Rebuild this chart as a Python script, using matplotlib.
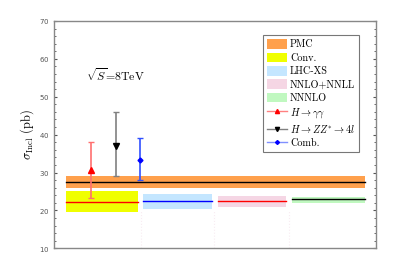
import matplotlib
matplotlib.use("Agg")
import matplotlib.pyplot as plt
from matplotlib.patches import Patch
from matplotlib.lines import Line2D

plt.rcParams['mathtext.fontset'] = 'cm'
plt.rcParams['font.family'] = 'serif'
plt.rcParams['font.serif'] = ['cmr10', 'DejaVu Serif']
plt.rcParams['axes.formatter.use_mathtext'] = True

# Theory predictions: band name, central value, lower and upper band edges (pb)
bands = ['PMC', 'Conv.', 'LHC-XS', 'NNLO+NNLL', 'NNNLO']
band_center = [27.4, 22.2, 22.4, 22.4, 22.9]
band_low = [25.9, 19.5, 20.3, 20.9, 21.9]
band_high = [29.0, 25.1, 24.3, 23.8, 23.5]

# Measurements (8 TeV): central value, lower and upper ends of error bar
channels = [r'$H\rightarrow\gamma\gamma$', r'$H\rightarrow ZZ^{*}\rightarrow 4l$', 'Comb.']
meas = [30.6, 37.1, 33.4]
meas_low = [23.2, 29.1, 27.9]
meas_high = [38.1, 46.1, 39.2]

# styling
band_colors = ['#ffa04c', '#f0ff00', '#c4e6ff', '#f5d6e4', '#c0f8c0']
line_colors = ['black', 'red', 'blue', 'red', 'black']
band_x = [(0.37, 9.66), (0.37, 2.62), (2.77, 4.92), (5.11, 7.23), (7.41, 9.66)]
meas_x = [1.14, 1.92, 2.69]
meas_colors = ['red', 'black', 'blue']
meas_line = ['#ff7070', '#808080', '#3050ff']
legend_line = ['#ff8080', '#808080', '#8090ff']
meas_markers = ['^', 'v', 'D']
meas_msize = [4, 4, 2.5]

fig = plt.figure(figsize=(4.15, 2.79), dpi=100)
ax = fig.add_axes([0.13, 0.11, 0.775, 0.815])

for i in range(len(bands)):
    x0, x1 = band_x[i]
    ax.fill_between([x0, x1], band_low[i], band_high[i], color=band_colors[i],
                    linewidth=0, zorder=1)
    ax.plot([x0, x1], [band_center[i], band_center[i]], color=line_colors[i],
            linewidth=1.0, zorder=2)

# faint dotted guides under the bands
for xv in [2.71, 4.98, 7.32]:
    ax.plot([xv, xv], [10, 20.2], color='#f8ecf2', linestyle=':', linewidth=0.8, zorder=1)

for i in range(len(channels)):
    ax.errorbar(meas_x[i], meas[i],
                yerr=[[meas[i] - meas_low[i]], [meas_high[i] - meas[i]]],
                fmt='none', ecolor=meas_line[i], elinewidth=1.2, capsize=2,
                capthick=1.0, zorder=4)
    ax.plot(meas_x[i], meas[i], marker=meas_markers[i], color=meas_colors[i],
            markersize=meas_msize[i], linestyle='none', zorder=5)

ax.text(1.0, 55.8, r'$\sqrt{S}$=8TeV', fontsize=8.5, va='center')

ax.set_xlim(0, 10)
ax.set_ylim(10, 70)
ax.set_yticks(range(10, 71, 10))
ax.set_yticks(range(10, 71, 2), minor=True)
ax.set_xticks([])
ax.tick_params(axis='y', which='both', direction='in', right=True, colors='#555555',
               labelsize=5, length=2.5)
ax.tick_params(axis='y', which='minor', length=1.5)
for lab in ax.get_yticklabels():
    lab.set_family('DejaVu Sans')
for sp in ax.spines.values():
    sp.set_color('#888888')
    sp.set_linewidth(1.0)

ax.set_ylabel(r'$\sigma_{\rm Incl}$ (pb)', fontsize=9, labelpad=2)

handles = [Patch(facecolor=c, edgecolor='none') for c in band_colors]
for i in range(len(channels)):
    handles.append(Line2D([0], [0], color=legend_line[i], linewidth=1.0,
                          marker=meas_markers[i], markersize=3 if i < 2 else 2,
                          markerfacecolor=meas_colors[i], markeredgecolor=meas_colors[i]))
leg = ax.legend(handles, bands + channels, loc='upper right',
                bbox_to_anchor=(0.965, 0.96), fontsize=7.3, frameon=True,
                fancybox=False, edgecolor='#555555', handlelength=2.0,
                handleheight=1.1, labelspacing=0.3, borderpad=0.4,
                handletextpad=0.3)
leg.get_frame().set_linewidth(0.8)

fig.savefig('out.png', dpi=100)
